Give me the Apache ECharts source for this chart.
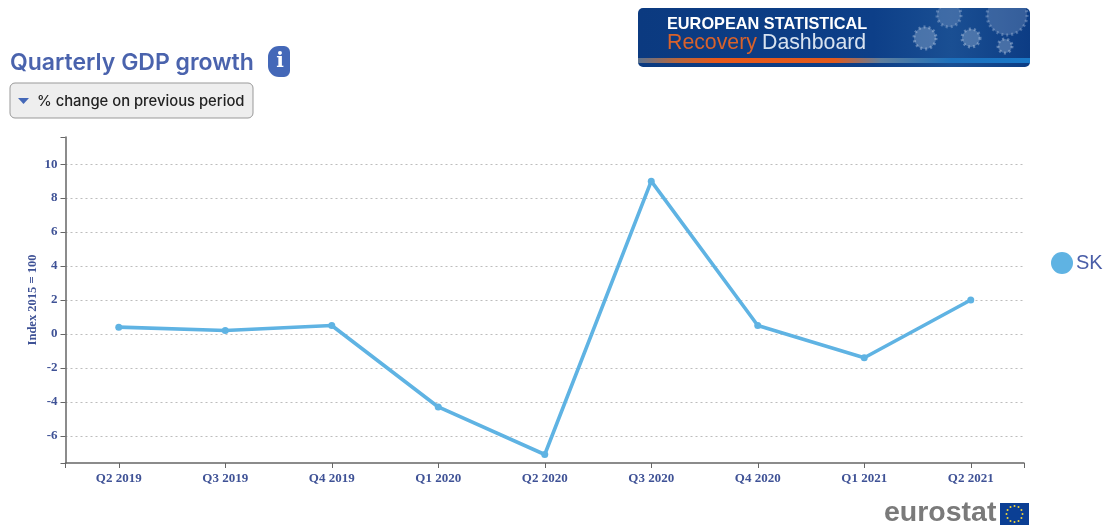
<!DOCTYPE html>
<html><head><meta charset="utf-8">
<style>html,body{margin:0;padding:0;background:#fff}#c{width:1111px;height:526px}</style>
<script src="https://cdn.jsdelivr.net/npm/echarts@6/dist/echarts.min.js"></script>
</head><body><div id="c"></div>
<script>
const categories = ['Q2 2019','Q3 2019','Q4 2019','Q1 2020','Q2 2020','Q3 2020','Q4 2020','Q1 2021','Q2 2021'];
const skValues = [0.4,0.2,0.5,-4.3,-7.1,9.0,0.5,-1.4,2.0];
const seriesName = 'SK';
const yTickValues = [-7.6,-6,-4,-2,0,2,4,6,8,10,11.6];
const yLabelValues = [-6,-4,-2,0,2,4,6,8,10];
const yAxisName = 'Index 2015 = 100';
const titleText = 'Quarterly GDP growth';
const dropdownText = '% change on previous period';

const chart = echarts.init(document.getElementById('c'), null, {renderer:'canvas'});
const axisBlue = '#3f5296', lineGrey = '#666666';
const viruses = [[949,15,12,.22],[1007,15,20,.22],[925,38,11,.3],[971,38,9,.3],[1005,46,7,.3]];
const graphics = [
  // banner
  {type:'rect',shape:{x:638,y:8,width:392,height:59,r:5},style:{fill:{type:'linear',x:0,y:0,x2:1,y2:0,colorStops:[{offset:0,color:'#0b3a80'},{offset:.6,color:'#0d3f88'},{offset:.8,color:'#1a4f93'},{offset:1,color:'#0c3c84'}]}}},
  {type:'rect',shape:{x:638,y:58,width:392,height:5},style:{fill:{type:'linear',x:0,y:0,x2:1,y2:0,colorStops:[{offset:0,color:'#5c7390'},{offset:.1,color:'#b8663c'},{offset:.2,color:'#e8581a'},{offset:.5,color:'#e25a1c'},{offset:.62,color:'#5f7f9e'},{offset:.8,color:'#1d71bd'},{offset:1,color:'#1a78c8'}]}}},
  ...viruses.map(v=>({type:'circle',shape:{cx:v[0],cy:v[1],r:v[2]},style:{fill:'rgba(200,215,235,'+v[3]+')',stroke:'rgba(200,215,235,'+(v[3]+.1)+')',lineWidth:3,lineDash:[2,3]}})),
  {type:'rect',shape:{x:900,y:0,width:135,height:8},style:{fill:'#ffffff'}},
  {type:'text',x:667,y:17,style:{text:'EUROPEAN STATISTICAL',font:'bold 16.3px "Liberation Sans"',fill:'#ffffff'}},
  {type:'text',x:667,y:33,style:{text:'Recovery',font:'21.3px "Liberation Sans"',fill:'#d9622b'}},
  {type:'text',x:762,y:33,style:{text:'Dashboard',font:'21.3px "Liberation Sans"',fill:'#d8e3f0'}},
  // title, info, dropdown
  {type:'text',x:10,y:52,style:{text:titleText,font:'600 23px "Inter"',fill:'#4a63ad'}},
  {type:'rect',shape:{x:268,y:46,width:22,height:31,r:[11,6,6,11]},style:{fill:'#4468b8'}},
  {type:'text',x:280,y:62,style:{text:'i',font:'bold 20px "DejaVu Serif"',fill:'#ffffff',align:'center',verticalAlign:'middle'}},
  {type:'rect',shape:{x:10,y:83,width:243,height:35,r:5},style:{fill:'#eeeeee',stroke:'#999999',lineWidth:1}},
  {type:'polygon',shape:{points:[[18,98],[29,98],[23.5,104]]},style:{fill:'#4468b8'}},
  {type:'text',x:37,y:94,style:{text:dropdownText,font:'500 14.8px "Inter"',fill:'#222222'}},
  // eurostat logo
  {type:'text',x:884,y:499,style:{text:'eurostat',font:'bold 28.5px "Liberation Sans"',fill:'#7a7a7a'}},
  {type:'rect',shape:{x:1000,y:503,width:29,height:22},style:{fill:'#0b3f94'}},
  ...Array.from({length:12},(_,i)=>({type:'circle',shape:{cx:1014.5+8*Math.cos(i*Math.PI/6),cy:514+8*Math.sin(i*Math.PI/6),r:1},style:{fill:'#f2d43a'}}))
];

chart.setOption({
  animation:false,
  backgroundColor:'#ffffff',
  textStyle:{fontFamily:'Liberation Serif'},
  legend:{orient:'vertical',left:1046,top:247,icon:'circle',itemWidth:22,itemHeight:27,itemGap:0,
    data:[seriesName],textStyle:{color:'#4a5ea8',fontSize:20,fontFamily:'Liberation Sans',padding:[0,0,0,-2]}},
  grid:{left:65.5,right:87,top:137,bottom:63,containLabel:false},
  xAxis:[
    {type:'category',data:categories,boundaryGap:true,position:'bottom',
     axisLine:{onZero:false,lineStyle:{color:lineGrey,width:1.5}},
     axisTick:{show:true,alignWithLabel:true,length:5,lineStyle:{color:lineGrey,width:1}},
     axisLabel:{interval:0,margin:9,color:axisBlue,fontSize:13,fontFamily:'Liberation Serif',fontWeight:'bold'},
     splitLine:{show:false}},
    {type:'value',min:0,max:1,interval:1,position:'bottom',
     axisLine:{show:false,onZero:false},axisTick:{show:true,length:5,lineStyle:{color:lineGrey,width:1}},
     axisLabel:{show:false},splitLine:{show:false}}
  ],
  yAxis:{type:'value',min:-7.6,max:11.6,
    name:yAxisName,nameLocation:'middle',nameGap:26,nameMoveOverlap:false,nameRotate:90,
    nameTextStyle:{color:axisBlue,fontSize:12.5,fontFamily:'Liberation Serif',fontWeight:'bold'},
    axisLine:{show:true,onZero:false,lineStyle:{color:lineGrey,width:1.5}},
    axisTick:{show:true,length:5,customValues:yTickValues,lineStyle:{color:lineGrey,width:1}},
    axisLabel:{customValues:yLabelValues,margin:8,color:axisBlue,fontSize:13,fontFamily:'Liberation Serif',fontWeight:'bold'},
    splitLine:{show:true,showMinLine:false,showMaxLine:false,lineStyle:{color:'#bdbdbd',type:[2,3],width:1}}},
  series:[{name:seriesName,type:'line',data:skValues,xAxisIndex:0,smooth:false,
    symbol:'circle',symbolSize:7,showSymbol:true,
    lineStyle:{color:'#5fb3e3',width:3.6},itemStyle:{color:'#5fb3e3'}}],
  graphic:graphics
});
</script></body></html>
